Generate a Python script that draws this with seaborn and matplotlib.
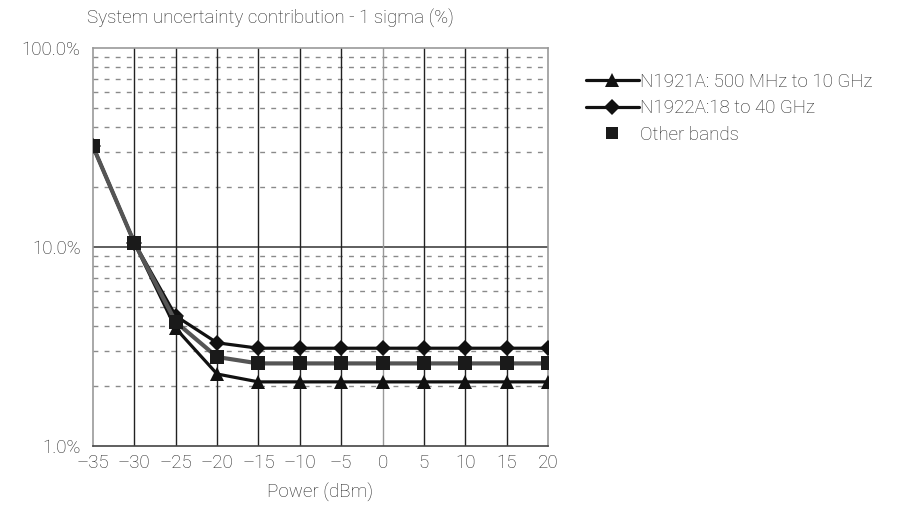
import matplotlib
matplotlib.use("Agg")
import matplotlib.pyplot as plt
import seaborn as sns
import pandas as pd
from matplotlib.lines import Line2D
from matplotlib.ticker import FixedLocator, NullFormatter

power = [-35, -30, -25, -20, -15, -10, -5, 0, 5, 10, 15, 20]
n1921a = [32, 10.5, 3.9, 2.3, 2.1, 2.1, 2.1, 2.1, 2.1, 2.1, 2.1, 2.1]
n1922a = [32, 10.5, 4.5, 3.3, 3.1, 3.1, 3.1, 3.1, 3.1, 3.1, 3.1, 3.1]
other = [32, 10.5, 4.2, 2.8, 2.6, 2.6, 2.6, 2.6, 2.6, 2.6, 2.6, 2.6]
ytick_vals = [1, 10, 100]
ytick_labels = ["1.0%", "10.0%", "100.0%"]
labels = ["N1921A: 500 MHz to 10 GHz", "N1922A:18 to 40 GHz", "Other bands"]

sns.set_theme(style="white")
plt.rcParams['font.family'] = ['Roboto', 'DejaVu Sans']
plt.rcParams['font.weight'] = 'light'
plt.rcParams['axes.labelweight'] = 'light'
FS = 13.5
TXT = "#262626"

fig = plt.figure(figsize=(9.09, 5.14), dpi=100)
ax = fig.add_axes([93/909, 1-446/514, (548-93)/909, (446-48)/514])

df = pd.DataFrame({"power": power, "a": n1921a, "b": n1922a, "c": other})

# grid
ax.set_yscale("log")
ax.set_ylim(1, 100)
ax.set_xlim(-35, 20)
minor = [m * d for d in (1, 10) for m in range(2, 10)]
for v in minor:
    ax.axhline(v, color="#8a8a8a", lw=1.0, ls=(0, (3.5, 4.5)), zorder=1)
ax.axhline(10, color="#333333", lw=1.1, zorder=1.5)
for xv in power[1:-1]:
    c = "#999999" if xv == 0 else "#222222"
    ax.axvline(xv, color=c, lw=1.0, zorder=1.5)

sns.lineplot(data=df, x="power", y="a", ax=ax, color="#111111", lw=2.3,
             marker="^", markersize=10, markeredgewidth=0, zorder=3)
sns.lineplot(data=df, x="power", y="b", ax=ax, color="#111111", lw=2.3,
             marker="D", markersize=8, markeredgewidth=0, zorder=3)
sns.lineplot(data=df, x="power", y="c", ax=ax, color="#555555", lw=3.0,
             marker="s", markersize=10, markerfacecolor="#1a1a1a",
             markeredgewidth=0, zorder=4)

ax.set_yticks(ytick_vals)
ax.set_yticklabels(ytick_labels)
ax.yaxis.set_minor_locator(FixedLocator(minor))
ax.yaxis.set_minor_formatter(NullFormatter())
ax.set_xticks(power)
ax.set_xticklabels([str(p).replace("-", "\u2013") for p in power])
ax.tick_params(axis="both", which="both", length=0, labelsize=FS, colors=TXT)
ax.tick_params(axis="y", pad=9)
ax.tick_params(axis="x", pad=6)
ax.set_xlabel("Power (dBm)", fontsize=FS, color=TXT, labelpad=8)
ax.set_ylabel("")
for s in ax.spines.values():
    s.set_color("#999999")
    s.set_linewidth(1.2)
ax.spines["bottom"].set_color("#444444")

fig.text(270/909, 1-18/514, "System uncertainty contribution - 1 sigma (%)",
         ha="center", va="center", fontsize=FS, color=TXT)

handles = [
    Line2D([], [], color="#111111", lw=2.3, marker="^", markersize=10, markeredgewidth=0),
    Line2D([], [], color="#111111", lw=2.3, marker="D", markersize=8, markeredgewidth=0),
    Line2D([], [], color="none", lw=0, marker="s", markersize=9,
           markerfacecolor="#1a1a1a", markeredgewidth=0),
]
leg = fig.legend(handles, labels, loc="upper left",
                 bbox_to_anchor=(586/909, 1-73/514), frameon=False,
                 fontsize=FS, handlelength=2.8, handletextpad=0.1,
                 labelspacing=0.45, borderpad=0, borderaxespad=0)
for t in leg.get_texts():
    t.set_color(TXT)

fig.savefig("out.png", dpi=100)
